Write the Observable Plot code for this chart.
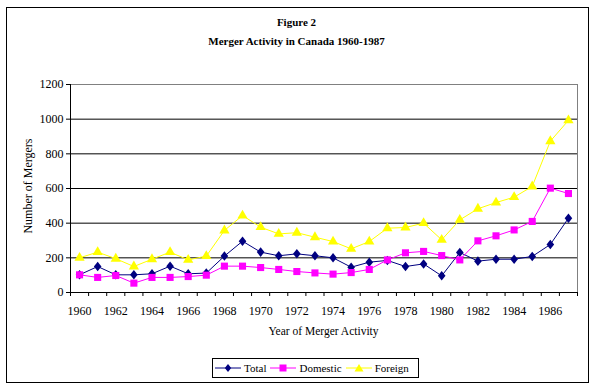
<!DOCTYPE html>
<html>
<head>
<meta charset="utf-8">
<script src="https://cdn.jsdelivr.net/npm/d3@7"></script>
<script src="https://cdn.jsdelivr.net/npm/@observablehq/plot@0.6"></script>
<style>
  html, body { margin: 0; padding: 0; background: #fff; }
  #wrap { position: relative; width: 593px; height: 389px; background: #fff; font-family: "Liberation Serif", "Liberation Sans", sans-serif; color: #000; overflow: hidden; }
  #wrap svg.plot { position: absolute; left: 0; top: 0; }
  .ov { position: absolute; white-space: nowrap; }
  #outer { position: absolute; left: 6px; top: 7px; width: 581px; height: 374px; border: 1px solid #000; box-sizing: content-box; pointer-events: none; }
  #t1, #t2 { left: 0; width: 593px; text-align: center; font-weight: bold; font-size: 11px; }
  #t1 { top: 16px; }
  #t2 { top: 35px; }
  #xt { left: 70px; width: 507px; text-align: center; top: 325px; font-size: 11.5px; }
  #yt { left: 28px; top: 186px; font-size: 12px; transform: translate(-50%, -50%) rotate(-90deg); }
  #legend { position: absolute; left: 212px; top: 358px; width: 203px; height: 18px; border: 1px solid #000; display: flex; align-items: center; font-size: 11px; padding-left: 2px; box-sizing: content-box; }
  #legend .item { display: flex; align-items: center; margin-right: 4px; }
  #legend svg { display: block; margin-right: 3px; }
</style>
</head>
<body>
<div id="wrap">
  <div id="outer"></div>
  <div class="ov" id="t1">Figure 2</div>
  <div class="ov" id="t2">Merger Activity in Canada 1960-1987</div>
  <div class="ov" id="xt">Year of Merger Activity</div>
  <div class="ov" id="yt">Number of Mergers</div>
  <div id="legend"></div>
</div>
<script>
const years = [1960,1961,1962,1963,1964,1965,1966,1967,1968,1969,1970,1971,1972,1973,1974,1975,1976,1977,1978,1979,1980,1981,1982,1983,1984,1985,1986,1987];
const total    = [102,150,102,102,108,152,108,112,210,296,233,212,223,212,200,146,175,185,150,165,96,231,181,192,192,208,277,429];
const domestic = [102,87,98,54,87,87,92,100,152,152,144,133,121,113,106,115,133,188,229,237,213,188,298,327,361,410,602,571];
const foreign  = [200,233,195,150,192,233,188,210,358,444,377,338,345,319,294,252,294,371,375,400,304,419,483,519,550,612,873,993];
const yTicks = [0,200,400,600,800,1000,1200];
const xLabelYears = [1960,1962,1964,1966,1968,1970,1972,1974,1976,1978,1980,1982,1984,1986];
const seriesNames = ["Total","Domestic","Foreign"];
const seriesColors = ["#000080","#FF00FF","#FFFF00"];

const rows = (vals) => years.map((y, i) => ({year: y, value: vals[i]}));
const tTotal = rows(total), tDom = rows(domestic), tFor = rows(foreign);
const bounds = [years[0] - 0.5, ...years.map(y => y + 0.5)];

const tallDiamond = {
  draw(ctx, size) {
    const ratio = 0.8;
    const h = Math.sqrt(2 * size / ratio) / 2;
    const w = h * ratio;
    ctx.moveTo(0, -h); ctx.lineTo(w, 0); ctx.lineTo(0, h); ctx.lineTo(-w, 0); ctx.closePath();
  }
};

const chart = Plot.plot({
  width: 593,
  height: 389,
  marginLeft: 70,
  marginRight: 16,
  marginTop: 84,
  marginBottom: 97,
  x: {type: "linear", domain: [bounds[0], bounds[bounds.length - 1]]},
  y: {domain: [0, 1200]},
  style: {fontFamily: "'Liberation Serif', 'Liberation Sans', sans-serif", fontSize: "12px", background: "transparent", color: "#000"},
  marks: [
    Plot.frame({stroke: "#808080"}),
    Plot.gridY(yTicks.filter(d => d > 0 && d < 1200), {stroke: "#000", strokeOpacity: 1}),
    Plot.ruleY([0], {stroke: "#000"}),
    Plot.ruleX([bounds[0]], {stroke: "#000"}),
    Plot.axisY({ticks: yTicks, tickSize: 4, tickPadding: 3, tickFormat: d => String(d), label: null, fontSize: 12}),
    Plot.axisX({ticks: bounds, tickSize: 4, tickFormat: () => "", label: null}),
    Plot.axisX({ticks: xLabelYears, tickSize: 0, tickPadding: 14, tickFormat: d => String(d), label: null, fontSize: 12}),
    Plot.line(tTotal, {x: "year", y: "value", stroke: seriesColors[0], strokeWidth: 1}),
    Plot.dot(tTotal, {x: "year", y: "value", fill: seriesColors[0], symbol: tallDiamond, r: 3.4}),
    Plot.line(tDom, {x: "year", y: "value", stroke: seriesColors[1], strokeWidth: 1}),
    Plot.dot(tDom, {x: "year", y: "value", fill: seriesColors[1], symbol: "square", r: 4}),
    Plot.line(tFor, {x: "year", y: "value", stroke: seriesColors[2], strokeWidth: 1}),
    Plot.dot(tFor, {x: "year", y: "value", fill: seriesColors[2], symbol: "triangle", r: 3.8})
  ]
});
chart.classList.add("plot");
document.getElementById("wrap").insertBefore(chart, document.getElementById("outer"));

const legend = document.getElementById("legend");
const markerPaths = [
  "M13,5 L16.2,9 L13,13 L9.8,9 Z",
  "M9.5,5.5 L16.5,5.5 L16.5,12.5 L9.5,12.5 Z",
  "M13,5 L17.5,12.5 L8.5,12.5 Z"
];
seriesNames.forEach((name, i) => {
  const item = document.createElement("div");
  item.className = "item";
  item.innerHTML = `<svg width="26" height="18"><line x1="0" y1="9" x2="26" y2="9" stroke="${seriesColors[i]}" stroke-width="1"/><path d="${markerPaths[i]}" fill="${seriesColors[i]}"/></svg><span>${name}</span>`;
  legend.appendChild(item);
});
</script>
</body>
</html>
